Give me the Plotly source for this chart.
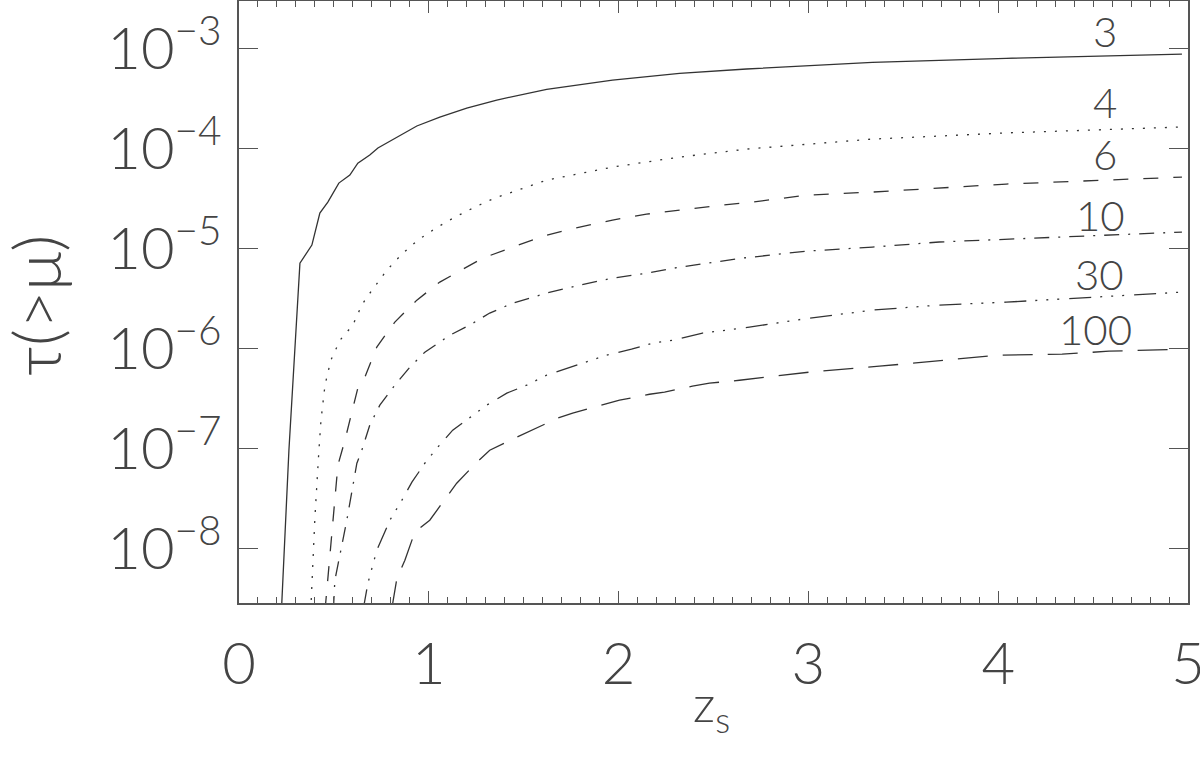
import plotly.graph_objects as go

# ---- data ----
z_3 = [0.224, 0.263, 0.321, 0.384, 0.426, 0.468, 0.526, 0.584, 0.626, 0.689, 0.732, 0.832, 0.937,
       1.058, 1.200, 1.358, 1.621, 1.968, 2.321, 2.674, 3.337, 4.042, 4.968]
tau_3 = [2.51e-9, 9.7e-8, 7.19e-6, 1.09e-5, 2.28e-5, 2.93e-5, 4.54e-5, 5.46e-5, 7.19e-5, 8.65e-5,
         1.02e-4, 1.31e-4, 1.69e-4, 2.07e-4, 2.55e-4, 3.07e-4, 3.93e-4, 4.86e-4, 5.68e-4, 6.27e-4,
         7.31e-4, 8.02e-4, 8.85e-4]

z_4 = [0.378, 0.400, 0.421, 0.432, 0.453, 0.484, 0.532, 0.600, 0.647, 0.674, 0.779, 0.858, 0.942,
       1.037, 1.137, 1.242, 1.347, 1.621, 1.968, 2.321, 2.674, 2.989, 3.337, 3.689, 4.042, 4.968]
tau_4 = [2.40e-9, 2.07e-8, 9.7e-8, 1.94e-7, 4.34e-7, 7.71e-7, 1.22e-6, 1.73e-6, 2.74e-6, 3.29e-6,
         6.12e-6, 8.85e-6, 1.22e-5, 1.61e-5, 2.07e-5, 2.61e-5, 3.21e-5, 4.86e-5, 6.56e-5, 8.26e-5,
         9.93e-5, 1.11e-4, 1.25e-4, 1.34e-4, 1.44e-4, 1.65e-4]

z_6 = [0.453, 0.479, 0.500, 0.521, 0.558, 0.595, 0.626, 0.663, 0.700, 0.726, 0.779, 0.821, 0.884,
       0.937, 1.058, 1.284, 1.442, 1.621, 1.795, 1.968, 2.147, 2.321, 2.495, 2.705, 2.989, 3.337,
       3.689, 4.042, 4.968]
tau_6 = [2.40e-9, 8.26e-9, 2.33e-8, 6.87e-8, 1.22e-7, 2.33e-7, 4.05e-7, 5.21e-7, 7.71e-7, 1.04e-6,
         1.44e-6, 1.85e-6, 2.44e-6, 3.07e-6, 4.65e-6, 8.07e-6, 1.04e-5, 1.37e-5, 1.65e-5, 1.94e-5,
         2.22e-5, 2.44e-5, 2.67e-5, 2.93e-5, 3.44e-5, 3.69e-5, 4.05e-5, 4.44e-5, 5.21e-5]

z_10 = [0.497, 0.505, 0.568, 0.621, 0.647, 0.689, 0.742, 0.821, 0.900, 0.979, 1.111, 1.216, 1.321,
        1.442, 1.621, 1.795, 1.968, 2.147, 2.321, 2.495, 2.653, 2.989, 3.337, 3.689, 4.042, 4.968]
tau_10 = [2.40e-9, 4.86e-9, 1.94e-8, 7.19e-8, 9.7e-8, 1.73e-7, 2.74e-7, 4.34e-7, 6.56e-7, 9.27e-7,
          1.37e-6, 1.73e-6, 2.28e-6, 2.86e-6, 3.61e-6, 4.34e-6, 5.09e-6, 5.71e-6, 6.56e-6, 7.36e-6,
          8.07e-6, 9.48e-6, 1.04e-5, 1.17e-5, 1.25e-5, 1.47e-5]

z_30 = [0.653, 0.679, 0.726, 0.795, 0.858, 0.911, 0.979, 1.047, 1.126, 1.216, 1.305, 1.411, 1.516,
        1.621, 1.732, 1.832, 1.937, 2.068, 2.179, 2.284, 2.442, 2.568, 2.689, 2.968, 3.337, 3.689,
        4.042, 4.968]
tau_30 = [2.40e-9, 4.54e-9, 9.7e-9, 1.94e-8, 3.07e-8, 4.65e-8, 7.19e-8, 1.04e-7, 1.54e-7, 2.07e-7,
          2.74e-7, 3.61e-7, 4.34e-7, 5.46e-7, 6.41e-7, 7.36e-7, 8.65e-7, 9.93e-7, 1.14e-6, 1.22e-6,
          1.44e-6, 1.54e-6, 1.65e-6, 1.98e-6, 2.44e-6, 2.74e-6, 2.93e-6, 3.69e-6]

z_100 = [0.803, 0.832, 0.874, 0.926, 1.005, 1.095, 1.147, 1.253, 1.321, 1.463, 1.542, 1.679, 1.758,
         1.916, 2.005, 2.163, 2.242, 2.389, 2.479, 2.637, 3.005, 3.374, 3.742, 4.005, 4.337, 4.584,
         4.968]
tau_100 = [2.40e-9, 5.09e-9, 7.71e-9, 1.47e-8, 1.94e-8, 3.29e-8, 4.54e-8, 7.36e-8, 9.7e-8, 1.31e-7,
           1.54e-7, 2.03e-7, 2.28e-7, 2.74e-7, 3.07e-7, 3.52e-7, 3.69e-7, 4.24e-7, 4.54e-7, 4.86e-7,
           5.85e-7, 6.71e-7, 7.71e-7, 8.65e-7, 8.85e-7, 9.48e-7, 9.93e-7]

curve_labels = ["3", "4", "6", "10", "30", "100"]
label_x = [4.563, 4.563, 4.563, 4.537, 4.532, 4.511]
label_logy = [-2.825, -3.535, -4.055, -4.665, -5.255, -5.805]

x_ticks = [0, 1, 2, 3, 4, 5]
y_tick_vals = [1e-3, 1e-4, 1e-5, 1e-6, 1e-7, 1e-8]
y_tick_text = ["10<sup>\u22123</sup>", "10<sup>\u22124</sup>", "10<sup>\u22125</sup>",
               "10<sup>\u22126</sup>", "10<sup>\u22127</sup>", "10<sup>\u22128</sup>"]

x_title = "z<sub>s</sub>"
y_title = "\u03c4(>\u03bc)"

# ---- styles ----
series = [
    (z_3, tau_3, "solid"),
    (z_4, tau_4, "2px,9px"),
    (z_6, tau_6, "15px,15px"),
    (z_10, tau_10, "15px,9px,2px,9px"),
    (z_30, tau_30, "22px,9px,2px,9px,2px,9px,2px,10px"),
    (z_100, tau_100, "30px,15px"),
]

FONT = "Lato"
INK = "#333333"
TXT = "#444"

fig = go.Figure()
for (xs, ys, dash), name in zip(series, curve_labels):
    fig.add_trace(go.Scatter(x=xs, y=ys, mode="lines", name=name,
                             line=dict(color=INK, width=1.3, dash=dash),
                             showlegend=False, hoverinfo="skip"))

for t, lx, ly in zip(curve_labels, label_x, label_logy):
    fig.add_annotation(x=lx, y=ly, text=t, showarrow=False, xanchor="center", yanchor="middle",
                       font=dict(family=FONT, size=42, color=TXT, weight=300))

# axis titles placed as annotations (paper coords)
fig.add_annotation(xref="paper", yref="paper", x=0.498, y=-0.172, text=x_title, showarrow=False,
                   xanchor="center", yanchor="middle",
                   font=dict(family=FONT, size=50, color=TXT, weight=300))
fig.add_annotation(xref="paper", yref="paper", x=-0.215, y=0.495, text=y_title, showarrow=False,
                   textangle=-90, xanchor="center", yanchor="middle",
                   font=dict(family=FONT, size=66, color=TXT, weight=300))

fig.update_layout(
    width=1200, height=772,
    margin=dict(l=239, r=12, t=1, b=169),
    plot_bgcolor="white", paper_bgcolor="white",
    font=dict(family=FONT, color=TXT, weight=300),
)
fig.update_xaxes(
    range=[0, 5], tickvals=x_ticks, ticktext=[str(v) for v in x_ticks],
    automargin=False, ticklabeloverflow="allow",
    showgrid=False, zeroline=False, showline=True, linecolor="#555", linewidth=1.5,
    mirror="ticks", ticks="inside", ticklen=12, tickcolor="#555", tickwidth=1.2,
    minor=dict(dtick=0.1, ticks="inside", ticklen=6, tickcolor="#555", tickwidth=1.2, showgrid=False),
    tickfont=dict(family=FONT, size=58, color=TXT, weight=300),
    ticklabelstandoff=10,
)
fig.update_yaxes(
    type="log", range=[-8.54, -2.523], tickvals=y_tick_vals, ticktext=y_tick_text,
    automargin=False, ticklabeloverflow="allow",
    showgrid=False, zeroline=False, showline=True, linecolor="#555", linewidth=1.5,
    mirror="ticks", ticks="inside", ticklen=19, tickcolor="#555", tickwidth=1.2,
    tickfont=dict(family=FONT, size=58, color=TXT, weight=300),
    ticklabelstandoff=4,
)

fig.write_html("out.html", config={"displayModeBar": False},
               post_script="document.body.style.margin='0';")
